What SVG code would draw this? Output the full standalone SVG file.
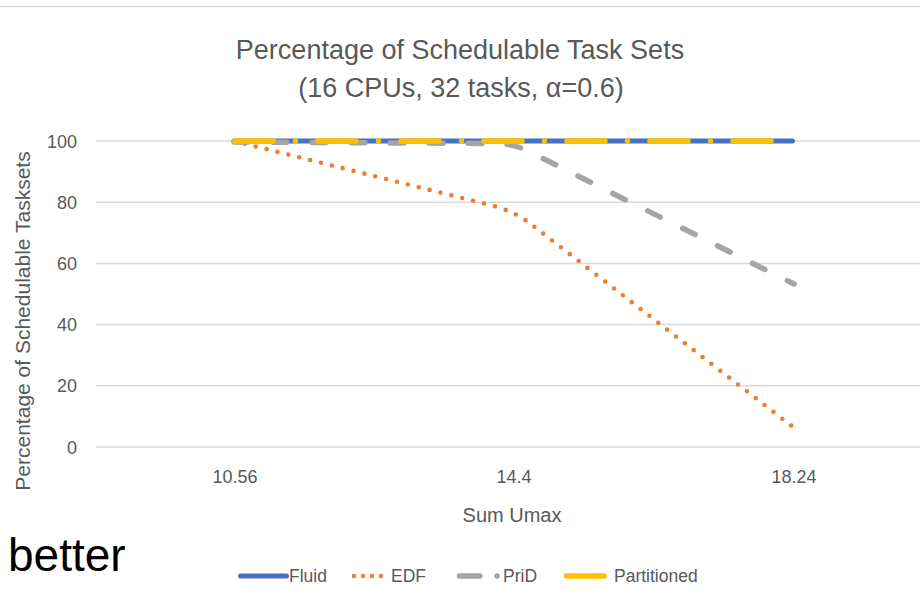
<svg xmlns="http://www.w3.org/2000/svg" width="920" height="590" viewBox="0 0 920 590">
<style>
.t{font-family:"Liberation Sans",Arial,sans-serif;fill:#595959}
.grid{stroke:#D9D9D9;stroke-width:1.5;fill:none}
.s{fill:none;stroke-linecap:round;stroke-linejoin:round}
.fluid{stroke:#4472C4;stroke-width:5}
.edf{stroke:#ED7D31;stroke-width:4.6;stroke-dasharray:0 11.2}
.prid{stroke:#A5A5A5;stroke-width:5.5;stroke-dasharray:14 25}
.part{stroke:#FFC000;stroke-width:5.5;stroke-dasharray:38 22.5 0 22.5}
</style>
<rect width="920" height="590" fill="#fff"/>
<line x1="0" y1="6.5" x2="920" y2="6.5" stroke="#D9D9D9" stroke-width="1.5"/>
<g id="title" class="t" text-anchor="middle" font-size="27">
<text x="460" y="59">Percentage of Schedulable Task Sets</text>
<text x="461" y="97">(16 CPUs, 32 tasks, α=0.6)</text>
</g>
<g id="grid">
<line class="grid" x1="96" y1="141" x2="920" y2="141"/>
<line class="grid" x1="96" y1="202.2" x2="920" y2="202.2"/>
<line class="grid" x1="96" y1="263.4" x2="920" y2="263.4"/>
<line class="grid" x1="96" y1="324.6" x2="920" y2="324.6"/>
<line class="grid" x1="96" y1="385.8" x2="920" y2="385.8"/>
<line class="grid" x1="96" y1="447" x2="920" y2="447"/>
</g>
<g id="yticks" class="t" font-size="18" text-anchor="end">
<text x="77" y="147.5">100</text>
<text x="77" y="208.7">80</text>
<text x="77" y="269.9">60</text>
<text x="77" y="331.1">40</text>
<text x="77" y="392.3">20</text>
<text x="77" y="453.5">0</text>
</g>
<g id="xticks" class="t" font-size="18" text-anchor="middle">
<text x="235" y="483">10.56</text>
<text x="514" y="483">14.4</text>
<text x="794" y="483">18.24</text>
</g>
<text id="ytitle" class="t" font-size="21" text-anchor="middle" transform="translate(30,321) rotate(-90)">Percentage of Schedulable Tasksets</text>
<text id="xtitle" class="t" font-size="20" text-anchor="middle" x="512" y="522">Sum Umax</text>
<g id="series">
<path id="fluid" class="s fluid" d="M234,141 L792.5,141"/>
<path id="edf" class="s edf" d="M234,141 L490,205 Q514,211 530,223.4 L793,427"/>
<path id="prid" class="s prid" d="M234,142 L498,143.5 Q514,144 528,151 L794,284"/>
<path id="partitioned" class="s part" d="M235,141 L793,141"/>
</g>
<text id="better" x="8" y="571" font-family="'Liberation Sans',Arial,sans-serif" font-size="46" fill="#000">better</text>
<g id="legend" class="t" font-size="17.5">
<line class="s fluid" x1="240.5" y1="576" x2="286.5" y2="576"/>
<text x="289" y="582">Fluid</text>
<g fill="#ED7D31"><circle cx="354" cy="576" r="2.3"/><circle cx="363" cy="576" r="2.3"/><circle cx="372" cy="576" r="2.3"/><circle cx="381" cy="576" r="2.3"/></g>
<text x="391" y="582">EDF</text>
<line x1="459.5" y1="576" x2="480" y2="576" stroke="#A5A5A5" stroke-width="5.5" stroke-linecap="round"/>
<circle cx="497" cy="576" r="2.75" fill="#A5A5A5"/>
<text x="503" y="582">PriD</text>
<line class="s" x1="566.5" y1="576" x2="604" y2="576" stroke="#FFC000" stroke-width="5.5"/>
<text x="614" y="582">Partitioned</text>
</g>
</svg>
